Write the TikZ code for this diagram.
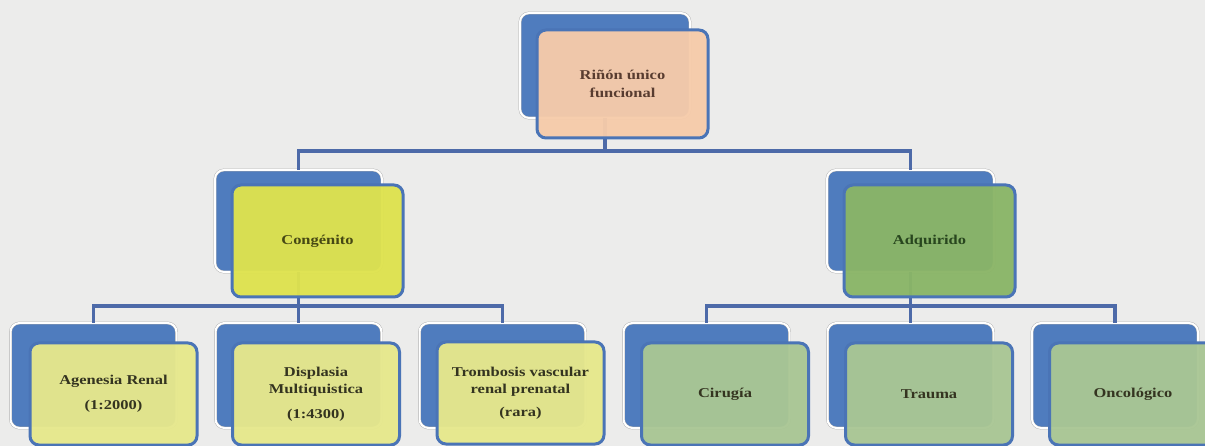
\documentclass[tikz,border=0pt]{standalone}
\usepackage{fontspec}
\newfontfamily\dfont{Liberation Serif}[FakeStretch=1.22]
\definecolor{bgcol}{RGB}{236,236,235}
\definecolor{backblue}{RGB}{79,124,190}
\definecolor{frontblue}{RGB}{74,116,182}
\definecolor{lineblue}{RGB}{77,106,168}
\definecolor{peach}{RGB}{246,203,170}
\definecolor{yel}{RGB}{222,226,78}
\definecolor{yelL}{RGB}{230,232,140}
\definecolor{grn}{RGB}{138,181,103}
\definecolor{grnL}{RGB}{169,198,148}
\definecolor{txtbrown}{RGB}{88,60,48}
\definecolor{txtolive}{RGB}{70,72,20}
\definecolor{txtgreen}{RGB}{40,70,30}
\definecolor{txtdark}{RGB}{52,52,32}
\begin{document}
\begin{tikzpicture}[x=1pt,y=-1pt,
  backbox/.style={rectangle, rounded corners=9pt, fill=backblue, draw=gray!65,
    double=white, double distance=2pt, line width=0.4pt,
    minimum width=166pt, minimum height=105pt, inner sep=0pt, outer sep=0pt},
  frontbox/.style={rectangle, rounded corners=9pt, draw=frontblue, line width=3pt,
    fill opacity=0.96, text opacity=1, draw opacity=1,
    minimum width=167pt, minimum height=102pt, inner sep=0pt, outer sep=0pt,
    align=center, font=\dfont\bfseries\fontsize{13.5}{17.5}\selectfont},
  conn/.style={draw=lineblue, line width=3.5pt, line join=miter}]
\useasboundingbox (0,0) rectangle (1205,446);
\clip (0,0) rectangle (1205,446);
\fill[bgcol] (0,0) rectangle (1205,446);

% back boxes
\node[backbox, minimum width=170pt] (tb) at (605,65.5) {};
\node[backbox, minimum width=167pt, minimum height=102pt] (cb) at (298.5,221) {};
\node[backbox, minimum width=167pt, minimum height=102pt] (ab) at (910.5,221) {};
\node[backbox] (l1b) at (93.5,375.5) {};
\node[backbox] (l2b) at (298.5,375.5) {};
\node[backbox] (l3b) at (502.5,375.5) {};
\node[backbox] (l4b) at (706.5,375.5) {};
\node[backbox] (l5b) at (910.5,375.5) {};
\node[backbox] (l6b) at (1115,375.5) {};

% connectors
\coordinate (hub1) at (605,151);
\coordinate (hub2) at (298.5,306);
\coordinate (hub3) at (910.5,306);
\draw[conn] (tb.south) -- (hub1);
\draw[conn] (cb.north) -- (cb.north |- hub1) -- (ab.north |- hub1) -- (ab.north);
\draw[conn] (cb.south) -- (hub2);
\draw[conn] (l1b.north) -- (l1b.north |- hub2) -- (l3b.north |- hub2) -- (l3b.north);
\draw[conn] (l2b.north) -- (l2b.north |- hub2);
\draw[conn] (ab.south) -- (hub3);
\draw[conn] (l4b.north) -- (l4b.north |- hub3) -- (l6b.north |- hub3) -- (l6b.north);
\draw[conn] (l5b.north) -- (l5b.north |- hub3);

% front boxes
\node[frontbox, fill=peach, text=txtbrown, minimum width=171pt, minimum height=108pt] (tf) at (622.5,84) {Riñón único\\funcional};
\node[frontbox, fill=yel, text=txtolive, minimum width=171pt, minimum height=112pt] (cf) at (317.5,241) {Congénito};
\node[frontbox, fill=grn, text=txtgreen, minimum width=171pt, minimum height=112pt] (af) at (929.5,241) {Adquirido};
\node[frontbox, fill=yelL, text=txtdark] (l1f) at (113.5,394) {Agenesia Renal\\[7pt](1:2000)};
\node[frontbox, fill=yelL, text=txtdark] (l2f) at (316,394) {Displasia\\Multiquistica\\[7pt](1:4300)};
\node[frontbox, fill=yelL, text=txtdark] (l3f) at (520.5,393) {Trombosis vascular\\renal prenatal\\[5pt](rara)};
\node[frontbox, fill=grnL, text=txtdark] (l4f) at (725,394) {Cirugía};
\node[frontbox, fill=grnL, text=txtdark] (l5f) at (929,394) {Trauma};
\node[frontbox, fill=grnL, text=txtdark] (l6f) at (1133,394) {Oncológico};
\end{tikzpicture}
\end{document}
